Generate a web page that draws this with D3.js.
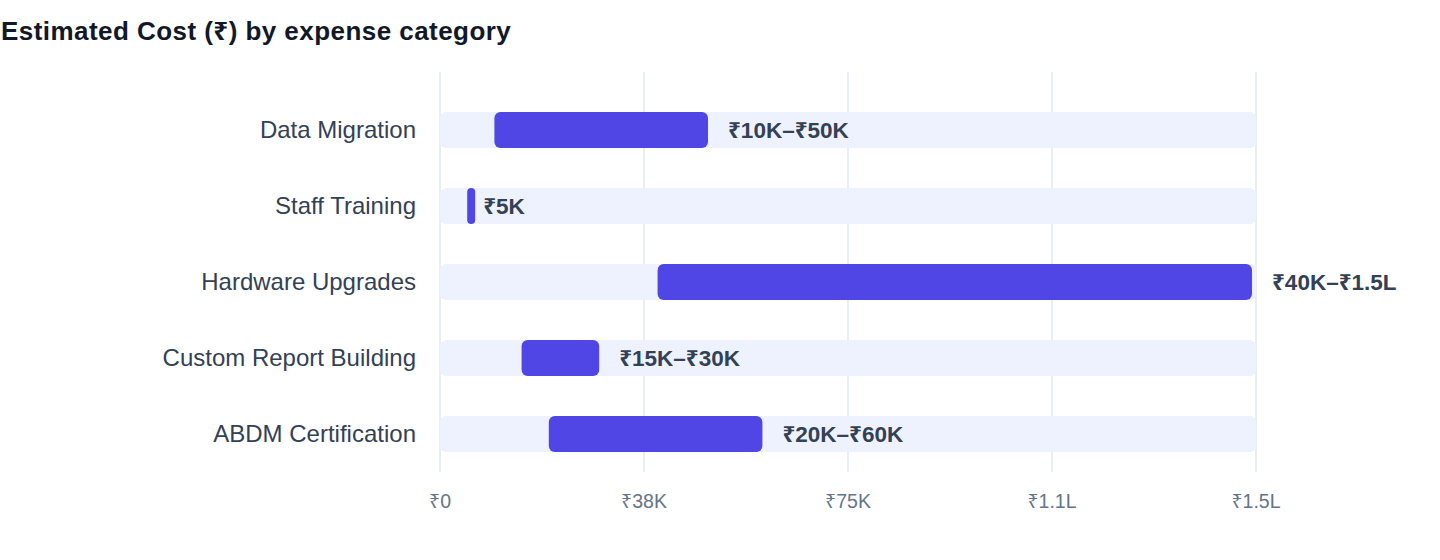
<!DOCTYPE html>
<html>
<head>
<meta charset="utf-8">
<script src="https://cdn.jsdelivr.net/npm/d3@7"></script>
<style>
  html, body { margin: 0; padding: 0; background: #fff; }
  svg text { font-family: "Liberation Sans", Arial, "Noto Sans", "DejaVu Sans", sans-serif; }
</style>
</head>
<body>
<svg id="chart"></svg>
<script>
'use strict';

const categories = ['Data Migration', 'Staff Training', 'Hardware Upgrades', 'Custom Report Building', 'ABDM Certification'];
const lowValues = [10000, 5000, 40000, 15000, 20000];
const highValues = [50000, 5000, 150000, 30000, 60000];
const rangeLabels = ['₹10K–₹50K', '₹5K', '₹40K–₹1.5L', '₹15K–₹30K', '₹20K–₹60K'];
const tickValues = [0, 37500, 75000, 112500, 150000];
const tickLabels = ['₹0', '₹38K', '₹75K', '₹1.1L', '₹1.5L'];

const rows = categories.map((c, i) => ({ name: c, lo: lowValues[i], hi: highValues[i], label: rangeLabels[i] }));

const W = 1440, H = 560;
const svg = d3.select('#chart').attr('width', W).attr('height', H);

svg.append('text')
    .attr('x', 1)
    .attr('y', 40)
    .attr('fill', '#111827')
    .attr('font-size', 26)
    .attr('font-weight', 700)
    .attr('letter-spacing', 0.45)
    .text('Estimated Cost (₹) by expense category');

const x = d3.scaleLinear()
    .domain([0, 150000])
    .range([440, 1256]);

const y = d3.scaleBand()
    .domain(categories)
    .range([92, 472])
    .padding(0);

const barH = 36;

// grid lines
svg.append('g')
    .selectAll('line')
    .data(tickValues)
  .enter().append('line')
    .attr('x1', d => x(d))
    .attr('x2', d => x(d))
    .attr('y1', 72)
    .attr('y2', 472)
    .attr('stroke', '#e2e8f0')
    .attr('stroke-width', 1.5);

// tick labels
svg.append('g')
    .selectAll('text')
    .data(tickValues)
  .enter().append('text')
    .attr('x', d => x(d))
    .attr('y', 508)
    .attr('text-anchor', 'middle')
    .attr('fill', '#64748b')
    .attr('font-size', 19.5)
    .text((d, i) => tickLabels[i]);

// track bars
svg.append('g')
    .attr('fill', '#eef2ff')
    .selectAll('rect')
    .data(rows)
  .enter().append('rect')
    .attr('x', x(0))
    .attr('y', d => y(d.name) + (y.bandwidth() - barH) / 2)
    .attr('width', x(150000) - x(0))
    .attr('height', barH)
    .attr('rx', 6);

// range bars
svg.append('g')
    .attr('fill', '#4f46e5')
    .selectAll('rect')
    .data(rows)
  .enter().append('rect')
    .attr('x', d => x(d.lo))
    .attr('y', d => y(d.name) + (y.bandwidth() - barH) / 2)
    .attr('width', d => Math.max(x(d.hi) - x(d.lo) - 4, 8))
    .attr('height', barH)
    .attr('rx', d => x(d.hi) - x(d.lo) < 12 ? 4 : 6);

// category labels
svg.append('g')
    .selectAll('text')
    .data(rows)
  .enter().append('text')
    .attr('x', 416)
    .attr('y', d => y(d.name) + y.bandwidth() / 2)
    .attr('dy', '0.35em')
    .attr('text-anchor', 'end')
    .attr('fill', '#334155')
    .attr('font-size', 24)
    .text(d => d.name);

// value labels
svg.append('g')
    .selectAll('text')
    .data(rows)
  .enter().append('text')
    .attr('x', d => x(d.hi) + 16)
    .attr('y', d => y(d.name) + y.bandwidth() / 2)
    .attr('dy', '0.35em')
    .attr('fill', '#334155')
    .attr('font-size', 22.5)
    .attr('font-weight', 700)
    .text(d => d.label);
</script>
</body>
</html>
